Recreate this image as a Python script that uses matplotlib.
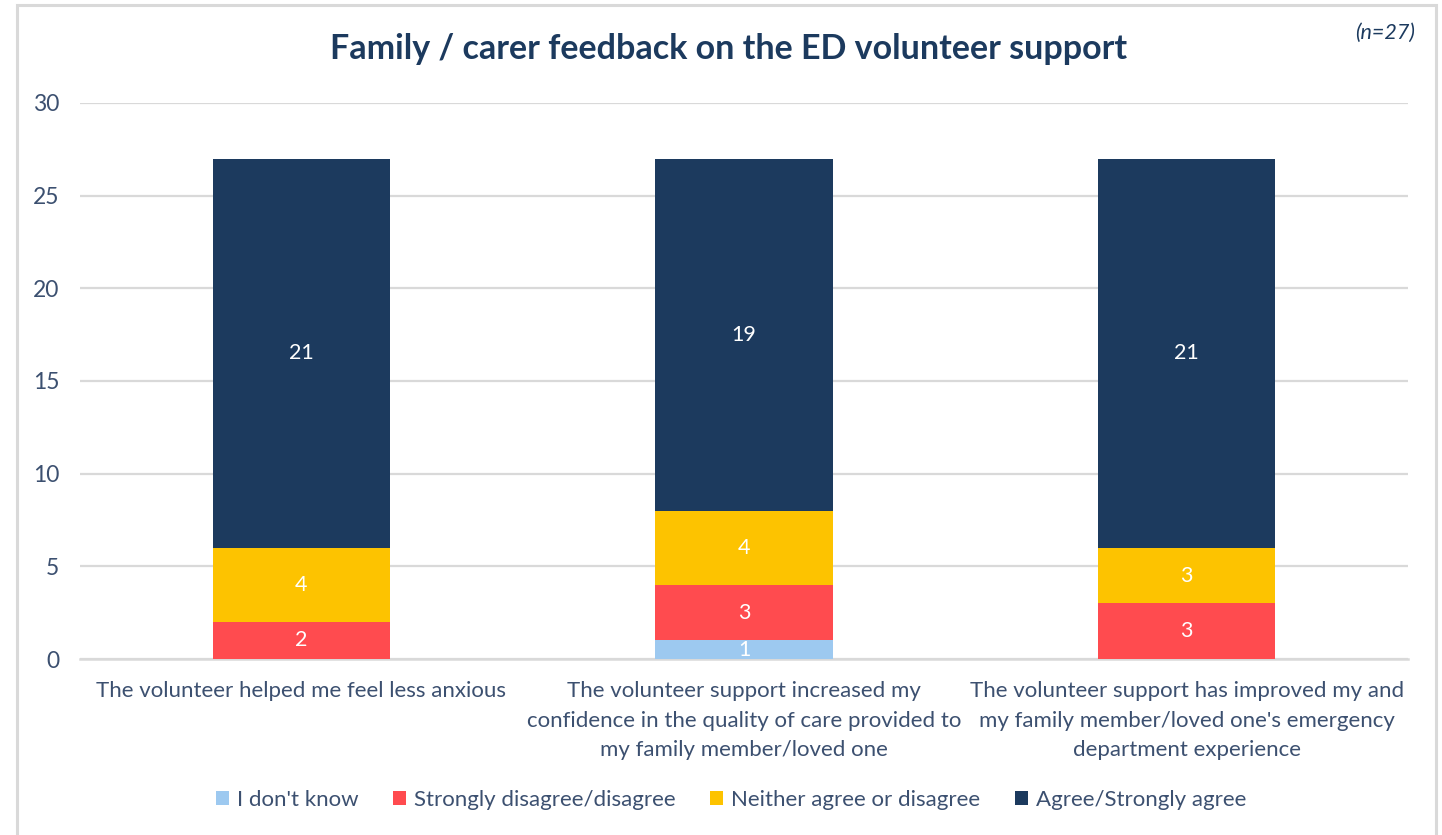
import matplotlib
matplotlib.use("Agg")
import matplotlib.pyplot as plt
from matplotlib.patches import Rectangle, Patch
import numpy as np

plt.rcParams['font.family'] = ['Lato', 'DejaVu Sans']

categories = [
    "The volunteer helped me feel less anxious",
    "The volunteer support increased my\nconfidence in the quality of care provided to\nmy family member/loved one",
    "The volunteer support has improved my and\nmy family member/loved one's emergency\ndepartment experience",
]
series_names = ["I don't know", "Strongly disagree/disagree",
                "Neither agree or disagree", "Agree/Strongly agree"]
dont_know = [0, 1, 0]
disagree = [2, 3, 3]
neither = [4, 4, 3]
agree = [21, 19, 21]
yticks = [0, 5, 10, 15, 20, 25, 30]

colors = ["#9DC9F0", "#FF4B4F", "#FDC300", "#1C3A5E"]
text_col = "#3C5070"
grid_col = "#D9D9D9"

fig = plt.figure(figsize=(14.42, 8.35), dpi=100)
ax = fig.add_axes([80 / 1442, 1 - 659 / 835, 1328 / 1442, 556 / 835])

x = np.arange(len(categories))
bottom = np.zeros(len(categories))
for name, vals, col in zip(series_names, [dont_know, disagree, neither, agree], colors):
    vals = np.array(vals, dtype=float)
    bars = ax.bar(x, vals, width=0.4, bottom=bottom, color=col, zorder=3, label=name)
    labels = [f"{int(v)}" if v > 0 else "" for v in vals]
    ax.bar_label(bars, labels=labels, label_type="center", color="white", fontsize=15.5)
    bottom += vals

ax.set_xlim(-0.5, 2.5)
ax.set_ylim(0, 30)
ax.set_yticks(yticks)
ax.set_yticklabels([str(t) for t in yticks], fontsize=16.5, color=text_col)
ax.set_xticks(x)
ax.set_xticklabels(categories, fontsize=16, color=text_col, linespacing=1.6)
ax.tick_params(axis="both", length=0)
ax.tick_params(axis="y", pad=15)
ax.tick_params(axis="x", pad=16)
ax.yaxis.grid(True, color=grid_col, linewidth=1.6, zorder=0)
for s in ["top", "right", "left"]:
    ax.spines[s].set_visible(False)
ax.spines["bottom"].set_color(grid_col)
ax.spines["bottom"].set_linewidth(1.8)

fig.text(729 / 1442, 1 - 49 / 835, "Family / carer feedback on the ED volunteer support",
         ha="center", va="center", fontsize=24.5, fontweight="bold", color="#1C3A5E")
fig.text(1415 / 1442, 1 - 33 / 835, "(n=27)", ha="right", va="center",
         fontsize=15.5, style="italic", color="#1C3A5E")

handles = [Patch(facecolor=c, edgecolor="none") for c in colors]
fig.legend(handles, series_names, loc="center", bbox_to_anchor=(731 / 1442, 1 - 800 / 835),
           ncol=4, frameon=False, fontsize=16, labelcolor=text_col,
           handlelength=0.6, handleheight=0.6, handletextpad=0.35, columnspacing=1.55)

# chart frame
fig.patches.append(Rectangle((17 / 1442, -0.05), (1436 - 17) / 1442, 1 - 5 / 835 + 0.05,
                             transform=fig.transFigure, fill=False,
                             edgecolor=grid_col, linewidth=2.2))

fig.savefig("out.png", dpi=100)
